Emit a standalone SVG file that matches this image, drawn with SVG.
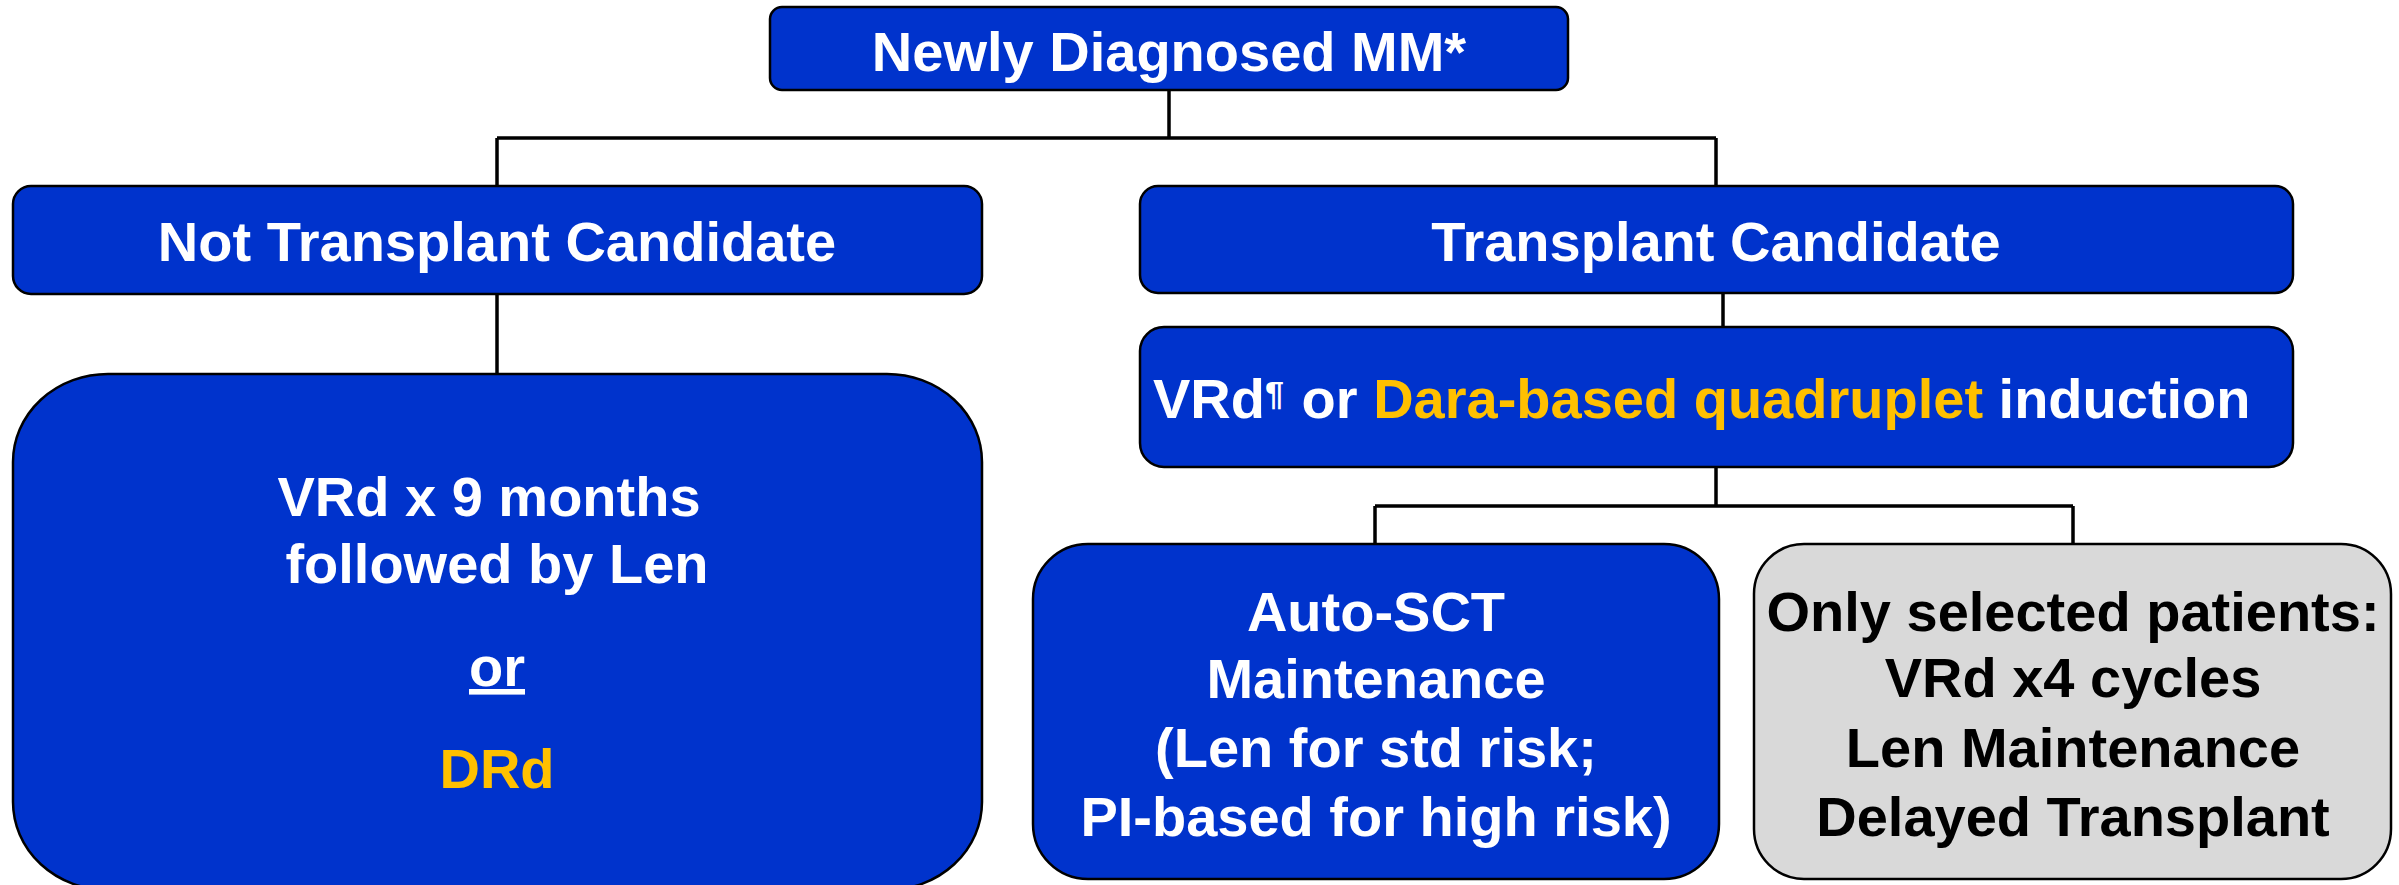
<svg xmlns="http://www.w3.org/2000/svg" width="2399" height="885" viewBox="0 0 2399 885">
<style>
.box{fill:#0033CC;stroke:#000;stroke-width:2.5}
.gbox{fill:#D9D9D9;stroke:#000;stroke-width:2.5}
.t{font-family:"Liberation Sans",Arial,sans-serif;font-weight:bold;font-size:56px;fill:#fff;text-anchor:middle}
.s{text-anchor:start}
.k{fill:#000}
.y{fill:#FFC000}
.ln{stroke:#000;stroke-width:3.5;fill:none}
</style>
<rect width="2399" height="885" fill="#fff"/>
<g id="connectors">
<path class="ln" d="M1169,90 V138 M497,138 H1716 M497,138 V186 M1716,138 V186"/>
<path class="ln" d="M497,294 V374"/>
<path class="ln" d="M1723,293 V327"/>
<path class="ln" d="M1716,467 V506 M1375,506 H2073 M1375,506 V544 M2073,506 V544"/>
</g>
<g id="n-newly">
<rect class="box" x="770" y="7" width="798" height="83" rx="12"/>
<text class="t" x="1169" y="71">Newly Diagnosed MM*</text>
</g>
<g id="n-not">
<rect class="box" x="13" y="186" width="969" height="108" rx="18"/>
<text class="t" x="497" y="261">Not Transplant Candidate</text>
</g>
<g id="n-tc">
<rect class="box" x="1140" y="186" width="1153" height="107" rx="18"/>
<text class="t" x="1716" y="261">Transplant Candidate</text>
</g>
<g id="n-vrd9">
<rect class="box" x="13" y="374" width="969" height="516" rx="95" ry="88"/>
<text class="t" x="489" y="516">VRd x 9 months</text>
<text class="t" x="497" y="583">followed by Len</text>
<text class="t" x="497" y="686" text-decoration="underline">or</text>
<text class="t y" x="497" y="788">DRd</text>
</g>
<g id="n-induction">
<rect class="box" x="1140" y="327" width="1153" height="140" rx="24"/>
<text class="t s" x="1153" y="418">VRd<tspan font-size="34" dy="-13">¶</tspan><tspan x="1286" dy="13"> or </tspan><tspan class="y">Dara-based quadruplet</tspan> induction</text>
</g>
<g id="n-auto">
<rect class="box" x="1033" y="544" width="686" height="335" rx="55"/>
<text class="t" x="1376" y="631">Auto-SCT</text>
<text class="t" x="1376" y="698">Maintenance</text>
<text class="t" x="1376" y="767">(Len for std risk;</text>
<text class="t" x="1376" y="836">PI-based for high risk)</text>
</g>
<g id="n-selected">
<rect class="gbox" x="1754" y="544" width="637" height="335" rx="50"/>
<text class="t k" x="2073" y="631">Only selected patients:</text>
<text class="t k" x="2073" y="697">VRd x4 cycles</text>
<text class="t k" x="2073" y="767">Len Maintenance</text>
<text class="t k" x="2073" y="836">Delayed Transplant</text>
</g>
</svg>
